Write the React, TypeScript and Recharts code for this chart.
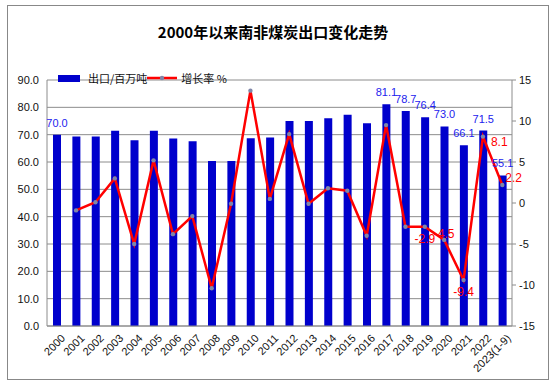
import {
  Bar,
  CartesianGrid,
  ComposedChart,
  LabelList,
  Legend,
  Line,
  XAxis,
  YAxis,
} from "recharts";

const years = [
  "2000", "2001", "2002", "2003", "2004", "2005", "2006", "2007", "2008", "2009",
  "2010", "2011", "2012", "2013", "2014", "2015", "2016", "2017", "2018", "2019",
  "2020", "2021", "2022", "2023(1-9)",
];

// 出口/百万吨
const exportsMt = [
  70.0, 69.3, 69.3, 71.4, 68.0, 71.4, 68.6, 67.6, 60.4, 60.4,
  68.7, 69.0, 75.0, 75.0, 76.0, 77.3, 74.2, 81.1, 78.7, 76.4,
  73.0, 66.1, 71.5, 55.1,
];

// 增长率 %
const growthPct: (number | null)[] = [
  null, -0.9, 0.1, 3.0, -5.0, 5.2, -3.8, -1.6, -10.4, -0.1,
  13.7, 0.5, 8.4, -0.1, 1.8, 1.5, -4.0, 9.5, -2.9, -2.9,
  -4.5, -9.4, 8.1, 2.2,
];

const leftTicks = [0, 10, 20, 30, 40, 50, 60, 70, 80, 90];
const rightTicks = [-15, -10, -5, 0, 5, 10, 15];

// only these points carry value labels in the original
const barLabelYears = ["2000", "2017", "2018", "2019", "2020", "2021", "2022", "2023(1-9)"];
const lineLabelYears = ["2019", "2020", "2021", "2022", "2023(1-9)"];

const data = years.map((y, i) => ({ year: y, exp: exportsMt[i], rate: growthPct[i] }));

const FONT = "Tahoma, 'Liberation Sans', Arial, sans-serif";

function XTick(props: any) {
  const { x, y, payload } = props;
  return (
    <g transform={`translate(${x},${y})`}>
      <text
        x={3}
        y={10}
        transform="rotate(-45)"
        textAnchor="end"
        fontSize={11}
        fontFamily={FONT}
        fill="#111"
      >
        {payload.value}
      </text>
    </g>
  );
}

function BarValue(props: any) {
  const { x, y, width, value, index } = props;
  if (!barLabelYears.includes(years[index])) return null;
  return (
    <text
      x={x + width / 2}
      y={y - 8}
      textAnchor="middle"
      fontSize={11}
      fontFamily={FONT}
      fill="#2222ee"
    >
      {Number(value).toFixed(1)}
    </text>
  );
}

function LineValue(props: any) {
  const { x, y, value, index } = props;
  const yr = years[index];
  if (!lineLabelYears.includes(yr)) return null;
  // rough placement like the excel original
  let dx = 0;
  let dy = 16;
  let anchor: "start" | "middle" | "end" = "middle";
  if (yr === "2020") dy = -2;
  if (yr === "2022") { dx = 8; dy = 9; anchor = "start"; }
  if (yr === "2023(1-9)") { dx = 3; dy = -3; anchor = "start"; }
  return (
    <text
      x={x + dx}
      y={y + dy}
      textAnchor={anchor}
      fontSize={12}
      fontFamily={FONT}
      fill="#ff0000"
    >
      {Number(value).toFixed(1)}
    </text>
  );
}

function LegendBox() {
  return (
    <div style={{ display: "flex", alignItems: "center", fontSize: 11, fontFamily: "'Noto Sans CJK SC', sans-serif", color: "#111" }}>
      <span style={{ display: "inline-block", width: 22, height: 7, background: "#0000cc", marginRight: 8 }} />
      <span>出口/百万吨</span>
      <svg width={30} height={10} style={{ marginLeft: 0 }}>
        <line x1={0} y1={5} x2={30} y2={5} stroke="#ff0000" strokeWidth={2.5} />
        <circle cx={15} cy={5} r={2.2} fill="#7f86a8" />
      </svg>
      <span style={{ marginLeft: 4 }}>增长率 %</span>
    </div>
  );
}

export default function App() {
  return (
    <div style={{ position: "relative", width: 555, height: 384, background: "#fff" }}>
      <style>{`body{margin:0}`}</style>
      <div
        style={{
          position: "absolute",
          left: 7,
          top: 5,
          width: 540,
          height: 373,
          border: "1px solid #888",
          pointerEvents: "none",
        }}
      />
      <div
        style={{
          position: "absolute",
          top: 21,
          left: 0,
          width: 546,
          textAlign: "center",
          fontSize: 15,
          fontWeight: "bold",
          fontFamily: "Tahoma, 'Noto Sans CJK SC', sans-serif",
          color: "#000",
        }}
      >
        2000年以来南非煤炭出口变化走势
      </div>
      <ComposedChart
        width={555}
        height={384}
        data={data}
        margin={{ top: 64, right: 0, bottom: 0, left: 0 }}
      >
        <CartesianGrid yAxisId="left" vertical={false} stroke="#8c8c8c" strokeWidth={1} />
        <XAxis
          dataKey="year"
          interval={0}
          height={58}
          tick={<XTick />}
          tickLine={false}
          axisLine={{ stroke: "#8c8c8c" }}
        />
        <YAxis
          yAxisId="left"
          domain={[0, 90]}
          ticks={leftTicks}
          width={47}
          tickLine={false}
          axisLine={{ stroke: "#8c8c8c" }}
          tickFormatter={(v) => Number(v).toFixed(1)}
          tick={{ fontSize: 11, fontFamily: FONT, fill: "#111" }}
        />
        <YAxis
          yAxisId="right"
          orientation="right"
          domain={[-15, 15]}
          ticks={rightTicks}
          width={43}
          tickSize={4}
          tickMargin={3}
          tickLine={{ stroke: "#8c8c8c" }}
          axisLine={{ stroke: "#8c8c8c" }}
          tick={{ fontSize: 11, fontFamily: FONT, fill: "#111", textAnchor: "start" }}
        />
        <Legend
          verticalAlign="top"
          align="left"
          content={() => <LegendBox />}
          wrapperStyle={{ top: 70, left: 58, width: 260 }}
        />
        <Bar yAxisId="left" dataKey="exp" fill="#0000cc" barSize={8} isAnimationActive={false}>
          <LabelList dataKey="exp" content={<BarValue />} />
        </Bar>
        <Line
          yAxisId="right"
          type="linear"
          dataKey="rate"
          stroke="#ff0000"
          strokeWidth={2.5}
          connectNulls
          dot={{ r: 2.2, fill: "#7f86a8", stroke: "none" }}
          activeDot={false}
          isAnimationActive={false}
        >
          <LabelList dataKey="rate" content={<LineValue />} />
        </Line>
      </ComposedChart>
    </div>
  );
}
